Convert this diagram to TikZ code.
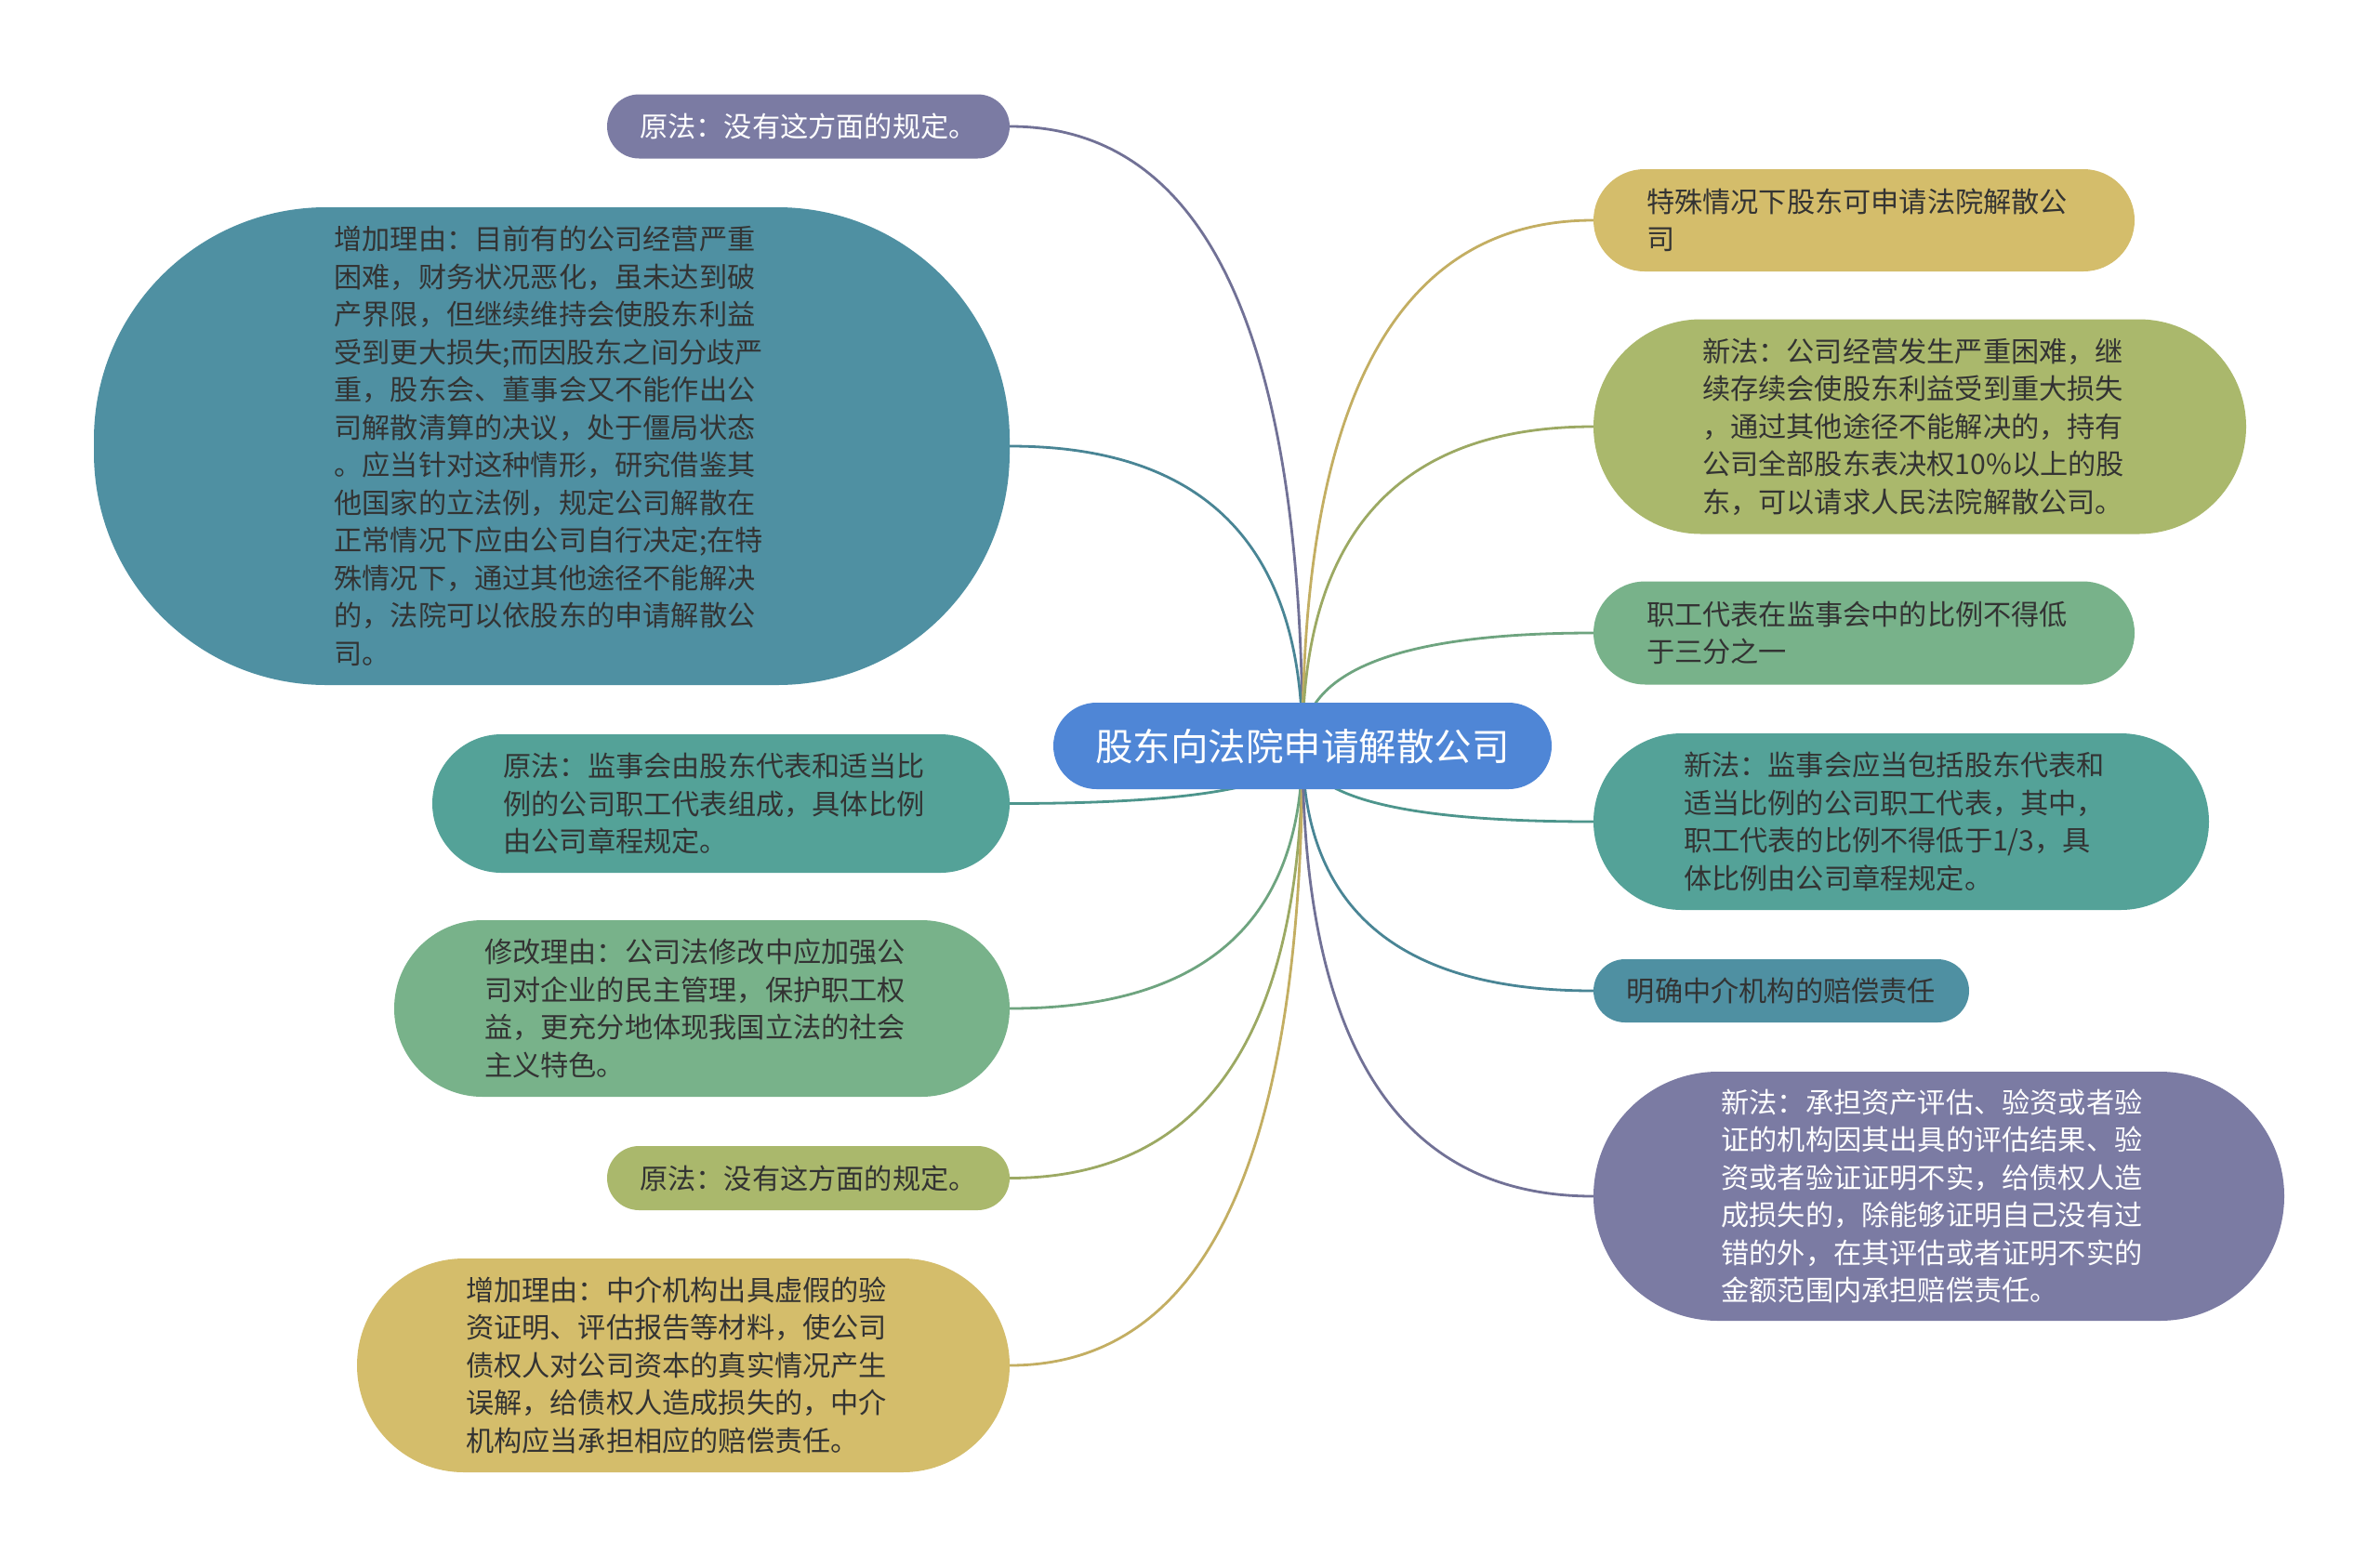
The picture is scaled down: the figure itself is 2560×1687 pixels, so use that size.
\documentclass[tikz,border=0pt]{standalone}
\usepackage{fontspec}
\setmainfont{Noto Sans CJK SC}
\usetikzlibrary{calc}
\definecolor{cpurple}{HTML}{7B7BA3}
\definecolor{cbteal}{HTML}{4F90A2}
\definecolor{cteal}{HTML}{54A298}
\definecolor{cgreen}{HTML}{78B28A}
\definecolor{colive}{HTML}{AAB86C}
\definecolor{cgold}{HTML}{D4BD6B}
\definecolor{cblue}{HTML}{4F86D6}
\definecolor{ctext}{HTML}{333333}
\pgfdeclarelayer{bg}
\pgfsetlayers{bg,main}
\tikzset{
  bub/.style={inner sep=0pt, align=left, text=ctext, font=\fontsize{30.2}{40.5}\selectfont},
  multi/.style={text width=468pt},
  lnk/.style={line width=2.8pt},
}
\newcommand{\linkto}[2]{%
  \coordinate (kk) at (ctr.center|-#2);
  \draw[lnk,#1] (ctr.center) .. controls ($(ctr.center)!0.667!(kk)$) and ($(#2)!0.667!(kk)$) .. (#2);}
\begin{document}
\begin{tikzpicture}[x=1pt,y=-1pt]
\useasboundingbox (0,0) rectangle (2560,1687);

\node[bub, fill=cblue, text=white, font=\fontsize{40.5}{48}\selectfont, minimum width=536pt, minimum height=93pt, rounded corners=46.5pt] (ctr) at (1401,802.5) {股东向法院申请解散公司};

% left side
\node[bub, fill=cpurple, text=white, minimum width=433pt, minimum height=69pt, rounded corners=34.5pt] (p1) at (869.5,136) {原法：没有这方面的规定。};
\node[bub, multi, fill=cbteal, minimum width=985pt, minimum height=514pt, rounded corners=250pt] (bt) at (593.5,480) {增加理由：目前有的公司经营严重\\困难，财务状况恶化，虽未达到破\\产界限，但继续维持会使股东利益\\受到更大损失;而因股东之间分歧严\\重，股东会、董事会又不能作出公\\司解散清算的决议，处于僵局状态\\。应当针对这种情形，研究借鉴其\\他国家的立法例，规定公司解散在\\正常情况下应由公司自行决定;在特\\殊情况下，通过其他途径不能解决\\的，法院可以依股东的申请解散公\\司。};
\node[bub, multi, fill=cteal, minimum width=621pt, minimum height=149pt, rounded corners=74.5pt] (t2) at (775.5,864.5) {原法：监事会由股东代表和适当比\\例的公司职工代表组成，具体比例\\由公司章程规定。};
\node[bub, multi, fill=cgreen, minimum width=662pt, minimum height=190pt, rounded corners=95pt] (g1) at (755,1085) {修改理由：公司法修改中应加强公\\司对企业的民主管理，保护职工权\\益，更充分地体现我国立法的社会\\主义特色。};
\node[bub, fill=colive, minimum width=433pt, minimum height=69pt, rounded corners=34.5pt] (o1) at (869.5,1267.5) {原法：没有这方面的规定。};
\node[bub, multi, fill=cgold, minimum width=702pt, minimum height=230pt, rounded corners=115pt] (gd1) at (735,1469) {增加理由：中介机构出具虚假的验\\资证明、评估报告等材料，使公司\\债权人对公司资本的真实情况产生\\误解，给债权人造成损失的，中介\\机构应当承担相应的赔偿责任。};

% right side
\node[bub, multi, fill=cgold, minimum width=582pt, minimum height=110pt, rounded corners=55pt] (gd2) at (2005,237) {特殊情况下股东可申请法院解散公\\司};
\node[bub, multi, fill=colive, minimum width=702pt, minimum height=231pt, rounded corners=115.5pt] (o2) at (2065,459) {新法：公司经营发生严重困难，继\\续存续会使股东利益受到重大损失\\，通过其他途径不能解决的，持有\\公司全部股东表决权10\%以上的股\\东，可以请求人民法院解散公司。};
\node[bub, multi, fill=cgreen, minimum width=582pt, minimum height=111pt, rounded corners=55.5pt] (g2) at (2005,681) {职工代表在监事会中的比例不得低\\于三分之一};
\node[bub, multi, fill=cteal, minimum width=662pt, minimum height=190pt, rounded corners=95pt] (t3) at (2045,884) {新法：监事会应当包括股东代表和\\适当比例的公司职工代表，其中，\\职工代表的比例不得低于1/3，具\\体比例由公司章程规定。};
\node[bub, fill=cbteal, minimum width=404pt, minimum height=68pt, rounded corners=34pt] (b2) at (1916,1066) {明确中介机构的赔偿责任};
\node[bub, multi, fill=cpurple, text=white, minimum width=743pt, minimum height=268pt, rounded corners=134pt] (p2) at (2085.5,1287) {新法：承担资产评估、验资或者验\\证的机构因其出具的评估结果、验\\资或者验证证明不实，给债权人造\\成损失的，除能够证明自己没有过\\错的外，在其评估或者证明不实的\\金额范围内承担赔偿责任。};

\begin{pgfonlayer}{bg}
\fill[white] (0,0) rectangle (2560,1687);
\linkto{cpurple!92!black}{p1.east}
\linkto{cbteal!92!black}{bt.east}
\linkto{cteal!92!black}{t2.east}
\linkto{cgreen!92!black}{g1.east}
\linkto{colive!92!black}{o1.east}
\linkto{cgold!92!black}{gd1.east}
\linkto{cgold!92!black}{gd2.west}
\linkto{colive!92!black}{o2.west}
\linkto{cgreen!92!black}{g2.west}
\linkto{cteal!92!black}{t3.west}
\linkto{cbteal!92!black}{b2.west}
\linkto{cpurple!92!black}{p2.west}
\end{pgfonlayer}
\end{tikzpicture}
\end{document}
